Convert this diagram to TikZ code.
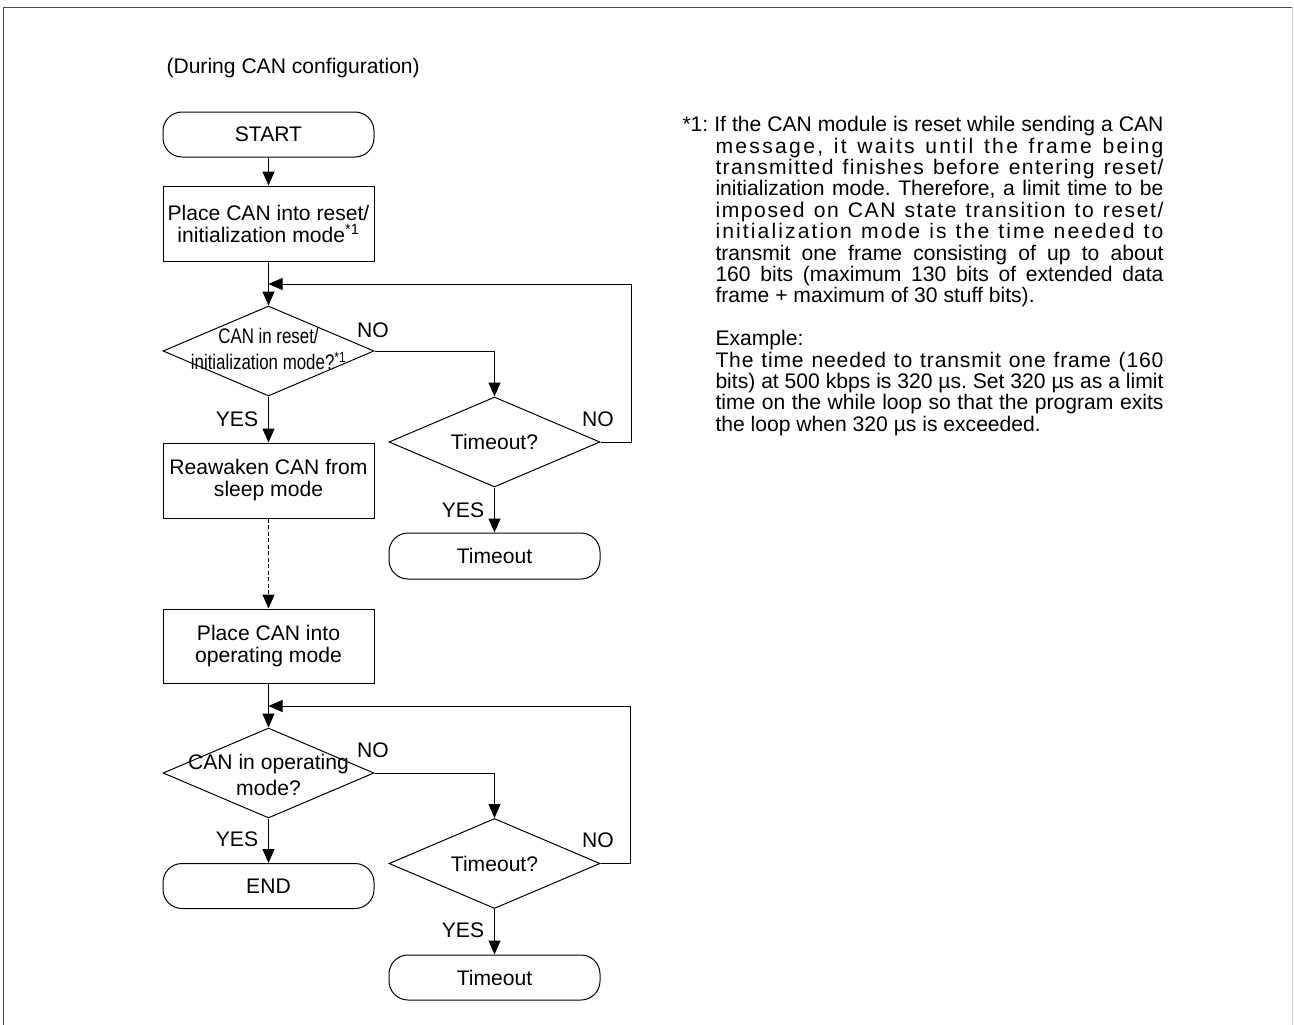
\documentclass[tikz,border=0pt]{standalone}
\usepackage{fontspec}
\setmainfont{Liberation Sans}
\usetikzlibrary{arrows.meta,shapes.geometric}

\tikzset{
  term/.style={draw, rounded corners=19pt, minimum width=211pt, minimum height=45pt, inner sep=0pt},
  proc/.style={draw, minimum width=211pt, minimum height=75pt, inner sep=0pt, align=center},
  dec/.style={draw, diamond, minimum width=211pt, minimum height=90pt, inner sep=0pt},
  dectext/.style={inner sep=0pt, align=center, font=\fontsize{21.1}{26}\selectfont},
  lbl/.style={inner sep=0pt},
  arr/.style={-{Triangle[length=14pt,width=12pt]}},
}
\newcommand{\narrowtxt}{\addfontfeature{FakeStretch=0.8}}
\newcommand{\spread}[2]{{\addfontfeature{LetterSpace=#1}#2}}

\begin{document}
\begin{tikzpicture}[x=1pt, y=-1pt, line width=1pt, font=\fontsize{21.1}{22}\selectfont]
  \useasboundingbox (0,0) rectangle (1294,1025);
  % frame (open at the bottom)
  \draw[black!70] (3,1025) -- (3,8) -- (1292,8);
  \draw[black!20] (1292,8) -- (1292,1025);

  \node[lbl, anchor=base west] (title) at (166,74) {(During CAN configuration)};

  % main column
  \node[term] (start) at (268.5,134.5) {START};
  \node[proc] (place1) at (268.5,223.5) {Place CAN into reset/\\initialization mode\textsuperscript{*1}};
  \node[dec] (dec1) at (268.5,351) {};
  \node[dectext] (dec1t) at (268.5,349) {\narrowtxt CAN in reset/\\\narrowtxt initialization mode?\textsuperscript{*1}};
  \node[proc] (wake) at (268.5,480.5) {Reawaken CAN from\\sleep mode};
  \node[proc, minimum height=74pt] (place2) at (268.5,646) {Place CAN into\\operating mode};
  \node[dec] (dec2) at (268.5,773) {};
  \node[dectext] (dec2t) at (268.5,775) {CAN in operating\\mode?};
  \node[term] (end) at (268.5,886) {END};

  % timeout branches
  \node[dec] (tq1) at (494.5,442) {};
  \node[dectext] (tq1t) at (tq1) {Timeout?};
  \node[term, minimum height=46pt] (tmo1) at (494.5,556) {Timeout};
  \node[dec] (tq2) at (494.5,863.5) {};
  \node[dectext] (tq2t) at (tq2) {Timeout?};
  \node[term] (tmo2) at (494.5,977.5) {Timeout};

  \draw[arr] (start) -- (place1);
  \draw[arr] (place1) -- (dec1);
  \draw[arr] (dec1) -- (wake);
  \draw[arr, dash pattern=on 4pt off 2.5pt] (wake) -- (place2);
  \draw[arr] (place2) -- (dec2);
  \draw[arr] (dec2) -- (end);
  \draw[arr] (dec1.east) -| (tq1.north);
  \draw[arr] (tq1) -- (tmo1);
  \draw[arr] (dec2.east) -| (tq2.north);
  \draw[arr] (tq2) -- (tmo2);

  % retry loops
  \coordinate (j1) at (268.5,284); \coordinate (r1) at (631,284);
  \coordinate (j2) at (268.5,706); \coordinate (r2) at (630,706);
  \draw[arr] (tq1.east) -| (r1) -- (j1);
  \draw[arr] (tq2.east) -| (r2) -- (j2);

  \foreach \nm/\px/\py/\txt in {no1/373/330/NO, yes1/237/419.5/YES, no2/598/419.5/NO, yes2/463/510/YES,
                                no3/373/750/NO, yes3/237/839.5/YES, no4/598/840/NO, yes4/463/930/YES}
    \node[lbl] (\nm) at (\px,\py) {\txt};

  % footnote
  \node[lbl, anchor=north west, text width=481pt, align=justify, font=\fontsize{21.1}{21.4}\selectfont] (note) at (682,116) {%
    \parindent=0pt\frenchspacing\tolerance=10000\hyphenpenalty=10000
    \hangindent=33pt\hangafter=1 *1: If the CAN module is reset while sending a CAN\linebreak
    \spread{11}{message, it waits until the frame being}\linebreak
    \spread{6.5}{transmitted finishes before entering reset/}\linebreak
    initialization mode. Therefore, a limit time to be\linebreak
    \spread{7.5}{imposed on CAN state transition to reset/}\linebreak
    \spread{10}{initialization mode is the time needed to}\linebreak
    transmit one frame consisting of up to about\linebreak
    160 bits (maximum 130 bits of extended data\linebreak
    frame + maximum of 30 stuff bits).\par
    \vspace{21.4pt}\leftskip=33pt Example:\\
    \spread{4}{The time needed to transmit one frame (160}\linebreak
    bits) at 500 kbps is 320 µs. Set 320 µs as a limit\linebreak
    time on the while loop so that the program exits\linebreak
    the loop when 320 µs is exceeded.\par};
\end{tikzpicture}
\end{document}
